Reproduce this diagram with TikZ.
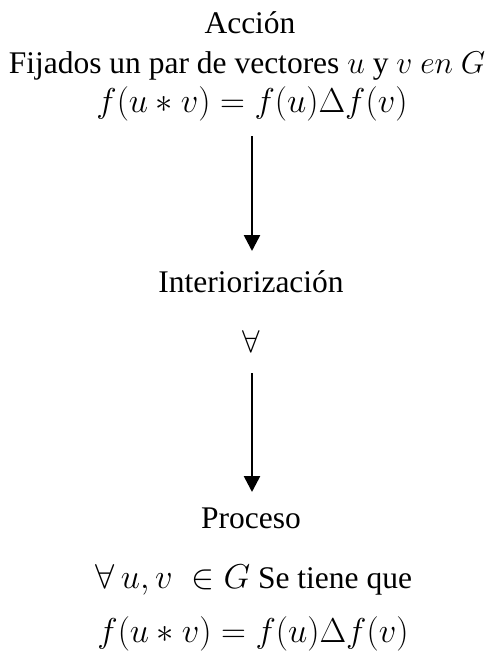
\RequirePackage{fix-cm}
\documentclass[tikz,border=0pt]{standalone}
\usepackage{fontspec}
\setmainfont{Liberation Serif}
\usetikzlibrary{arrows.meta}
\newcommand{\largemath}[1]{{\fontsize{34.5}{40}\selectfont$#1$}}
\begin{document}
\begin{tikzpicture}[x=1pt,y=-1pt,
  lbl/.style={inner sep=0pt,anchor=base,font=\fontsize{31.5}{36}\selectfont},
  eqn/.style={inner sep=0pt,anchor=base,font=\fontsize{34.5}{40}\selectfont},
  conn/.style={line width=2.6pt,-{Triangle[length=16pt,width=16pt]}}]
\useasboundingbox (0,0) rectangle (494,653);
\node[lbl] (accion) at (250,33) {Acción};
\node[lbl] (fij) at (247,73) {Fijados un par de vectores $u$ y $v$ $en$ $G$};
\node[eqn] (eq1) at (252,112) {$f(u*v)=f(u)\Delta f(v)$};
\coordinate (a1s) at (252,136);
\coordinate (a1e) at (252,251);
\draw[conn] (a1s) -- (a1e);
\node[lbl] (inter) at (251,292) {Interiorización};
\node[lbl] (forall) at (251,352) {$\forall$};
\coordinate (a2s) at (252,373);
\coordinate (a2e) at (252,492);
\draw[conn] (a2s) -- (a2e);
\node[lbl] (proc) at (251,528) {Proceso};
\node[lbl] (forall2) at (254,588) {\largemath{\forall\, u, v\ \in G} Se tiene que};
\node[eqn] (eq2) at (253,642) {$f(u*v)=f(u)\Delta f(v)$};
\end{tikzpicture}
\end{document}
